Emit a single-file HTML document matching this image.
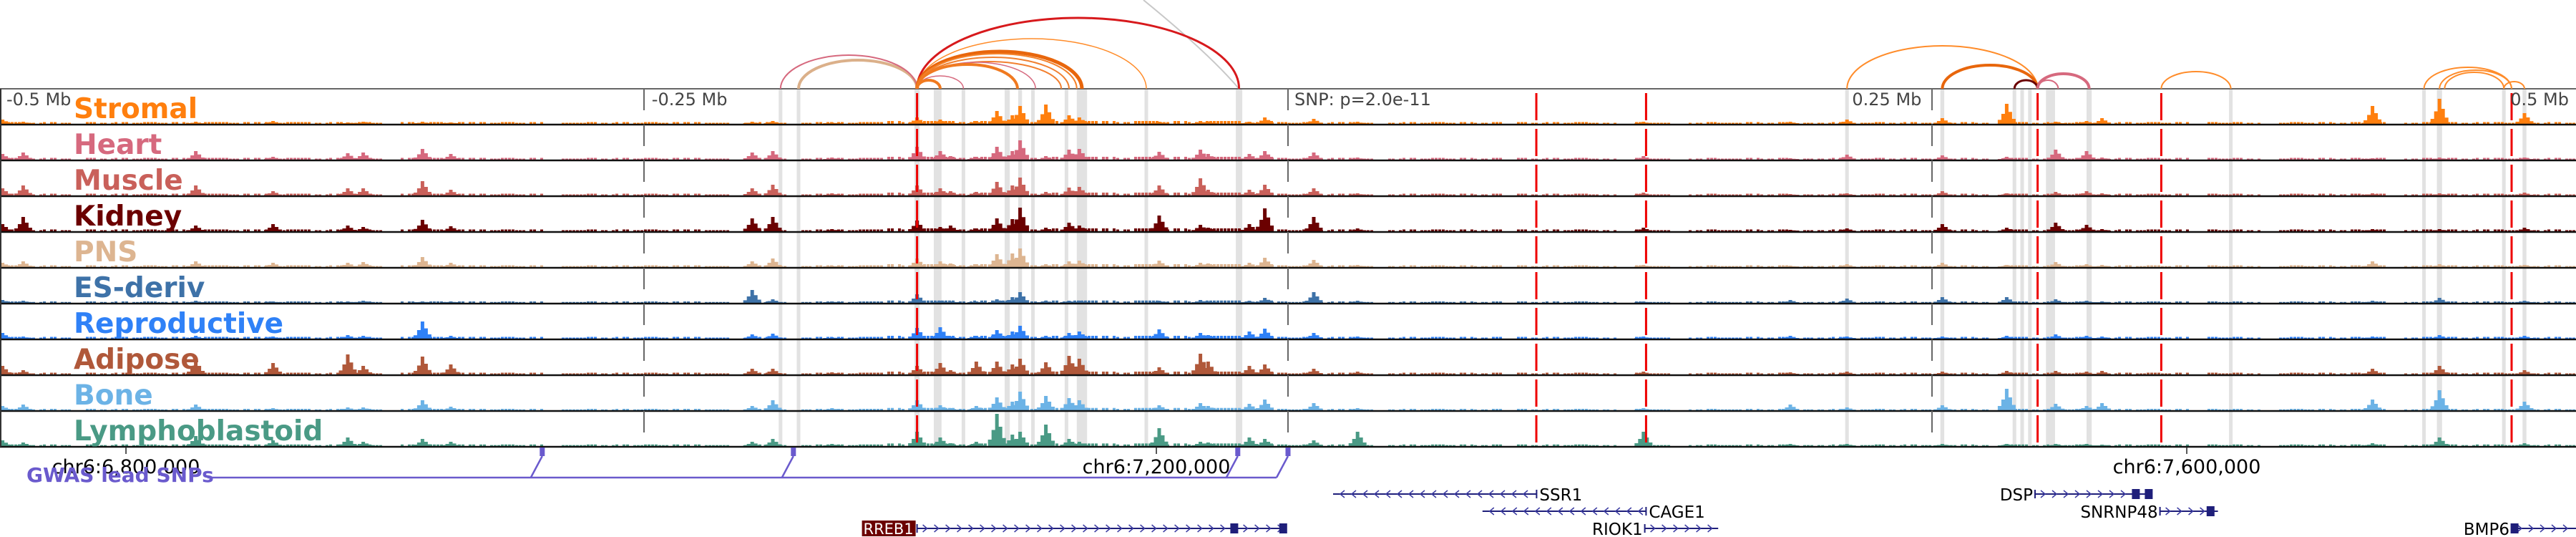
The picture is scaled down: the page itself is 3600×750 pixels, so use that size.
<!DOCTYPE html>
<html><head><meta charset="utf-8"><style>
html,body{margin:0;padding:0;background:#fff;}
svg{display:block;font-family:"DejaVu Sans","Liberation Sans",sans-serif;}
</style></head><body>
<svg id="chart" width="3600" height="750" viewBox="0 0 3600 750" xmlns="http://www.w3.org/2000/svg">
<g id="bands"></g>
<g id="bars"></g>
<g id="frame"></g>
<g id="arcs"></g>
<g id="labels"></g>
<g id="axis"></g>
<g id="gwas"></g>
<g id="genes"></g>
</svg>
<script>
// ---------- data ----------
const tracks = ["Stromal","Heart","Muscle","Kidney","PNS","ES-deriv","Reproductive","Adipose","Bone","Lymphoblastoid"];
const trackColors = ["#ff7f0e","#d6697e","#c9605a","#6b0000","#ddb591","#3e72a8","#2f81f7","#b0583a","#6cb3e6","#4a9a85"];
const peakKb = [-499,-491,-424,-394,-365,-359,-336,-325,-208,-200,-177,-144,-135,-131,-121,-113,-107,-104,-94,-85,-81,-50,-34,-31,-15,-9,10,27,138,195,217,254,279,298,310,316,421,447,480];
const hStromal = [6,3,3,4,2,3,3,2,3,4,2,9,6,2,4,18,12,25,27,12,9,3,4,3,3,9,7,3,3,3,6,8,28,3,4,8,25,35,15];
const hHeart = [8,10,12,4,9,10,15,8,10,12,3,18,12,5,4,18,12,27,5,14,15,11,14,8,8,12,10,3,5,2,7,6,4,14,12,3,2,3,3];
const hMuscle = [10,14,14,6,10,10,20,8,10,15,3,14,10,6,5,19,14,25,5,11,12,14,24,8,8,15,10,3,4,2,3,6,3,5,6,3,3,3,4];
const hKidney = [10,20,8,10,8,6,16,7,18,20,3,15,6,8,4,18,17,33,5,12,8,22,9,5,10,32,20,4,5,2,4,10,5,12,9,3,3,3,5];
const hPNS = [6,8,8,6,6,7,14,6,8,12,2,12,8,5,4,18,19,26,4,8,9,9,6,5,6,13,10,3,3,2,4,6,3,7,4,3,8,4,3];
const hES = [4,3,3,2,2,3,2,2,18,5,2,12,3,2,2,5,8,15,3,3,3,3,4,2,3,7,15,3,2,4,6,8,8,5,3,2,3,7,3];
const hRepro = [8,3,4,3,5,4,24,4,6,7,2,15,16,3,4,12,10,18,4,8,10,13,8,5,10,14,8,3,3,4,3,3,4,6,4,3,3,5,4];
const hAdipose = [12,6,20,16,28,12,25,14,8,8,3,12,16,6,18,18,14,22,17,26,22,10,29,18,12,14,8,4,4,3,4,4,5,5,4,5,8,12,6];
const hBone = [6,8,8,3,4,4,14,5,6,14,3,14,7,3,6,18,12,26,20,17,14,7,10,6,9,15,10,3,3,8,4,7,30,9,6,10,15,28,12];
const hLympho = [8,5,14,8,12,6,10,6,6,10,3,20,12,4,6,45,16,20,30,10,6,25,6,5,12,10,8,20,20,3,3,3,3,3,3,2,4,12,4];
const peakHeights = [hStromal,hHeart,hMuscle,hKidney,hPNS,hES,hRepro,hAdipose,hBone,hLympho];
const bgLevels = "221210212121212212212212121021212212120112121212211012101221223233323333232333233232333232121221012121212021212110211012112120112012121012102212120121212021210121212120121212212121212";
const bandKb = [-197,-190,-144,-136,-126,-109,-104,-99,-86,-80,-55,-19,217,254,282,285,288,296,311,366,441,447,472,480];
const bandWidthKb = [1,1,2,3,1,2,1.5,1,1,4,1,2.5,1,1.5,1,1,1,3.5,2,1,1,2,1,1.5];
const redKb = [-144,96.4,139,291,339,475];
const axisKb = [-250,0,250];
const axisLabels = ["-0.5 Mb","-0.25 Mb","SNP: p=2.0e-11","0.25 Mb","0.5 Mb"];
const axisLabelKb = [-497.5,-247,2.5,219,474.5];
const centerBp = 7251100;
const chromTicksBp = [6800000,7200000,7600000];
const chromTickLabels = ["chr6:6,800,000","chr6:7,200,000","chr6:7,600,000"];
const snpKb = [-289.5,-192,-19.5,0];
const arcStartKb = [-190,-197,-144,-144,-144,-144,-144,-144,-144,-144,-144,-144,217,254,282,291,291,339,441,447,449,472];
const arcEndKb = [-144,-144,-19,-55,-80,-82,-85,-88,-98,-105,-126,-135,291,291,291,311,299,366,475,475,472,480];
const arcApex = [84,77,25,54,72,75,80,86,87,90,106,112,64,91,112,103,112,100,94,98,101,114];
const arcColors = ["#dbb08a","#d6697e","#d7191c","#ff8c2a","#e8660c","#f4822a","#f08030","#f28030","#d6697e","#f07a20","#d6697e","#f07a20","#ff8c2a","#e8660c","#6b0000","#d6697e","#d6697e","#ff8c2a","#ff8c2a","#ff8c2a","#ff8c2a","#ff8c2a"];
const arcWidths = [4,2,3,1.5,5,2,2,2,1.5,4,1.5,4,2,4,3,4,2,2,2,2,2,2];
const geneNames = ["SSR1","CAGE1","RREB1","RIOK1","DSP","SNRNP48","BMP6"];
const geneStartKb = [17.5,75.5,-144,138.5,290,338.5,475];
const geneEndKb = [96.5,139,-1,167,335,361,500];
const geneRow = [0,1,2,2,0,1,2];
const geneStrand = [-1,-1,1,1,1,1,1];
const geneExonKb = [[],[],[-21,-2],[],[329,334],[358],[476]];

// ---------- scales ----------
const X = kb => (kb + 500) * 3.6;
const TOP = 124, TH = 50;
const ns = "http://www.w3.org/2000/svg";
function mk(tag, attrs, parent){ const e=document.createElementNS(ns,tag); for(const k in attrs) e.setAttribute(k,attrs[k]); parent.appendChild(e); return e; }

// bands
const bands=document.getElementById('bands');
bandKb.forEach((kb,i)=>{
  const w=Math.max(bandWidthKb[i]*3.6,5);
  const r=mk('rect',{x:X(kb)-w/2,y:TOP,width:w,height:TH*10,fill:'#e2e2e2'},bands);
  
  
});

// bars
const bars=document.getElementById('bars');
const bgScale=[1,1,1,1,1,0.8,1,1,0.8,0.9];
tracks.forEach((t,ti)=>{
  const base=TOP+TH*(ti+1)-1;
  const g=mk('g',{fill:trackColors[ti]},bars);
  
  
  let d='';
  for(let i=0;i<bgLevels.length;i++){
    const lv=+bgLevels[i]; if(!lv) continue;
    const h=[0,1.5,2.5,4][lv]*bgScale[ti];
    for(let j=0;j<4;j++){ if((i+j)%5===4) continue; const x=i*20+j*5; d+=`M${x} ${base}h4v${-h}h-4z`; }
  }
  const hs=peakHeights[ti];
  peakKb.forEach((kb,pi)=>{
    const h=hs[pi], x=X(kb);
    [[-10,0.2],[-5,0.5],[0,1],[5,0.6],[10,0.25]].forEach(([dx,f])=>{
      const hh=Math.max(h*f,1);
      d+=`M${x+dx-2.5} ${base}h5v${-hh}h-5z`;
    });
  });
  const p=mk('path',{d:d},g);
  
  
});

// frame
const frame=document.getElementById('frame');
mk('line',{x1:0,y1:TOP,x2:3600,y2:TOP,stroke:'#666','stroke-width':2},frame);
for(let i=1;i<=10;i++) mk('line',{x1:0,y1:TOP+TH*i,x2:3600,y2:TOP+TH*i,stroke:'#111','stroke-width':2.5},frame);
mk('line',{x1:1,y1:TOP,x2:1,y2:TOP+TH*10,stroke:'#333','stroke-width':2},frame);
axisKb.forEach(kb=>{
  const l=mk('line',{x1:X(kb),y1:TOP,x2:X(kb),y2:TOP+TH*10,stroke:'#666','stroke-width':2,'stroke-dasharray':'30 20'},frame);
  
  
});
redKb.forEach(kb=>{
  const l=mk('line',{x1:X(kb),y1:TOP-2,x2:X(kb),y2:TOP+TH*10,stroke:'#ee0000','stroke-width':3,'stroke-dasharray':'38 12','stroke-dashoffset':'42'},frame);
  
  
});

// arcs
const arcs=document.getElementById('arcs');
const gl=mk('path',{d:`M1598 0 Q1690 75 ${X(-19)} ${TOP}`,fill:'none',stroke:'#c8c8c8','stroke-width':2},arcs);


arcStartKb.forEach((s,i)=>{
  const x1=X(s),x2=X(arcEndKb[i]);
  const rx=(x2-x1)/2, ry=TOP-arcApex[i];
  const p=mk('path',{d:`M${x1} ${TOP} A${rx} ${ry} 0 0 1 ${x2} ${TOP}`,fill:'none',stroke:arcColors[i],'stroke-width':arcWidths[i]},arcs);
  
  
});

// labels
const labels=document.getElementById('labels');
tracks.forEach((t,ti)=>{
  const tx=mk('text',{x:103,y:TOP+TH*ti+41,fill:trackColors[ti],'font-size':39,'font-weight':'bold'},labels);
  tx.textContent=t;
  
  
});

// axis labels
const axis=document.getElementById('axis');
axisLabels.forEach((s,i)=>{
  const tx=mk('text',{x:X(axisLabelKb[i]),y:147,fill:'#444','font-size':24},axis);
  tx.textContent=s;
  
  
});
chromTicksBp.forEach((bp,i)=>{
  const x=X((bp-centerBp)/1000);
  mk('line',{x1:x,y1:624,x2:x,y2:634,stroke:'#222','stroke-width':1.5},axis);
  const tx=mk('text',{x:x,y:661,'text-anchor':'middle',fill:'#000','font-size':27},axis);
  tx.textContent=chromTickLabels[i];
  
  
});

// gwas
const gwas=document.getElementById('gwas');
const LINEY=667;
const lastX=X(snpKb[snpKb.length-1]);
mk('line',{x1:290,y1:LINEY,x2:lastX-16,y2:LINEY,stroke:'#6a5acd','stroke-width':2.5},gwas);
snpKb.forEach(kb=>{
  const x=X(kb);
  mk('rect',{x:x-3.5,y:625,width:7,height:12,fill:'#6a5acd'},gwas);
  const l=mk('line',{x1:x,y1:637,x2:x-16,y2:LINEY,stroke:'#6a5acd','stroke-width':2.5},gwas);
  
  
});
const gt=mk('text',{x:37,y:673,fill:'#6a5acd','font-size':28,'font-weight':'bold'},gwas);
gt.textContent='GWAS lead SNPs';



// genes
const genes=document.getElementById('genes');
const rowY=[690,714,738];
geneNames.forEach((n,i)=>{
  const g=mk('g',{},genes);
  
  
  const x1=X(geneStartKb[i]), x2=X(geneEndKb[i]), y=rowY[geneRow[i]];
  const col='#1f1f7a';
  mk('line',{x1:x1,y1:y,x2:x2,y2:y,stroke:col,'stroke-width':2},g);
  const sx = geneStrand[i]>0 ? x1 : x2;
  mk('line',{x1:sx,y1:y-6,x2:sx,y2:y+6,stroke:col,'stroke-width':2},g);
  let d='';
  for(let x=x1+12;x<x2-6;x+=16){
    if(geneStrand[i]>0) d+=`M${x-4} ${y-5}L${x+2} ${y}L${x-4} ${y+5}`;
    else d+=`M${x+4} ${y-5}L${x-2} ${y}L${x+4} ${y+5}`;
  }
  mk('path',{d:d,fill:'none',stroke:'#3a3aa0','stroke-width':1.5},g);
  geneExonKb[i].forEach(kb=>mk('rect',{x:X(kb)-5,y:y-7,width:11,height:14,fill:col},g));
  if(n==='RREB1'){
    mk('rect',{x:x1-77,y:y-11,width:75,height:22,fill:'#6b0000'},g);
    const t=mk('text',{x:x1-40,y:y+8,'text-anchor':'middle',fill:'#fff','font-size':21},g);
    t.textContent=n;
  } else if(geneStrand[i]<0){
    const t=mk('text',{x:x2+4,y:y+9,fill:'#000','font-size':23},g);
    t.textContent=n;
  } else {
    const t=mk('text',{x:x1-3,y:y+9,'text-anchor':'end',fill:'#000','font-size':23},g);
    t.textContent=n;
  }
});
</script>
</body></html>
